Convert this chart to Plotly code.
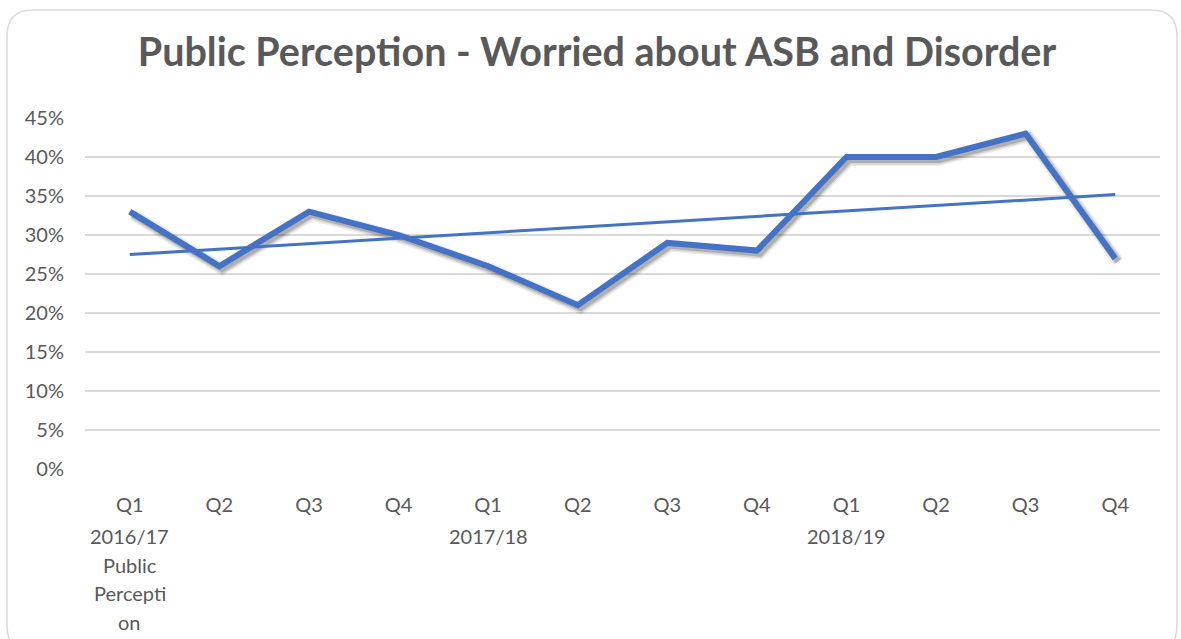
import numpy as np
import plotly.graph_objects as go

# data
quarters = ["Q1", "Q2", "Q3", "Q4", "Q1", "Q2", "Q3", "Q4", "Q1", "Q2", "Q3", "Q4"]
years = ["2016/17", "", "", "", "2017/18", "", "", "", "2018/19", "", "", ""]
group_lines = ["Public", "Percepti", "on"]  # "Public Perception", wrapped as in the original
worried_pct = [33, 26, 33, 30, 26, 21, 29, 28, 40, 40, 43, 27]
y_ticks = [0, 5, 10, 15, 20, 25, 30, 35, 40, 45]

W, H = 1181, 639
L, R, T, B = 85, 21, 118, 170
plot_w = W - L - R
plot_h = H - T - B
grey = "#595959"
blue = "#4472C4"
fs = 20

x = list(range(len(worried_pct)))
# linear trendline like Excel's
slope, intercept = np.polyfit(x, worried_pct, 1)
trend = [intercept + slope * i for i in x]

xr = [-0.5, len(x) - 0.5]
yr = [0, 45]
# shadow: same data, axes shifted a few pixels right/down
sx = 3 * (xr[1] - xr[0]) / plot_w
sy = 3 * (yr[1] - yr[0]) / plot_h

fig = go.Figure()
for wd, op in [(12, 0.07), (9, 0.11), (6, 0.17)]:
    fig.add_trace(go.Scatter(x=x, y=worried_pct, mode="lines", xaxis="x", yaxis="y",
                             line=dict(color="rgba(0,0,0,%s)" % op, width=wd),
                             hoverinfo="skip", showlegend=False))
fig.add_trace(go.Scatter(x=x, y=worried_pct, mode="lines", xaxis="x2", yaxis="y2",
                         line=dict(color=blue, width=6), name="Worried about ASB and Disorder",
                         showlegend=False))
fig.add_trace(go.Scatter(x=x, y=trend, mode="lines", xaxis="x2", yaxis="y2",
                         line=dict(color=blue, width=3), name="Linear trend", showlegend=False))

# extra category label rows under the quarter ticks
ann = []
row_y = 536 - (H - B)
for i, yl in enumerate(years):
    if yl:
        ann.append(dict(x=i, y=0, xref="x2", yref="paper", text=yl, showarrow=False,
                        yanchor="middle", yshift=-row_y, font=dict(size=fs, color=grey)))
for k, gl in enumerate(group_lines):
    ann.append(dict(x=0, y=0, xref="x2", yref="paper", text=gl, showarrow=False,
                    yanchor="middle", yshift=-(row_y + 28.6 * (k + 1)),
                    font=dict(size=fs, color=grey)))


def px(v):
    return (v - L) / plot_w


def py(v):
    return (H - B - v) / plot_h


# rounded chart border
x0, x1, y0, y1, r = 7, 1177, 10, 652, 26
path = ("M %f,%f L %f,%f Q %f,%f %f,%f L %f,%f Q %f,%f %f,%f "
        "L %f,%f Q %f,%f %f,%f L %f,%f Q %f,%f %f,%f Z") % (
    px(x0 + r), py(y0), px(x1 - r), py(y0), px(x1), py(y0), px(x1), py(y0 + r),
    px(x1), py(y1 - r), px(x1), py(y1), px(x1 - r), py(y1),
    px(x0 + r), py(y1), px(x0), py(y1), px(x0), py(y1 - r),
    px(x0), py(y0 + r), px(x0), py(y0), px(x0 + r), py(y0))

fig.update_layout(
    width=W, height=H,
    margin=dict(l=L, r=R, t=T, b=B),
    paper_bgcolor="white", plot_bgcolor="white",
    font=dict(family="Lato", size=fs, color=grey),
    title=dict(text="<b>Public Perception - Worried about ASB and Disorder</b>",
               x=597 / W, xref="container", xanchor="center",
               y=1 - 52 / H, yref="container", yanchor="middle",
               font=dict(family="Lato", size=39.5, color=grey)),
    xaxis=dict(range=[xr[0] - sx, xr[1] - sx], showgrid=False, zeroline=False,
               showticklabels=False, showline=False),
    yaxis=dict(range=[yr[0] + sy, yr[1] + sy], showgrid=False, zeroline=False,
               showticklabels=False, showline=False),
    xaxis2=dict(range=xr, overlaying="x", side="bottom", showgrid=False, zeroline=False,
                tickmode="array", tickvals=x, ticktext=quarters, ticks="",
                ticklabelstandoff=22, showline=False),
    yaxis2=dict(range=yr, overlaying="y", side="left", showgrid=True, gridcolor="#d9d9d9",
                gridwidth=1.5, zeroline=False, tickmode="array", tickvals=y_ticks,
                ticktext=["%d%%" % v for v in y_ticks], ticks="", ticklabelstandoff=20,
                showline=False),
    annotations=ann,
    shapes=[dict(type="path", path=path, xref="paper", yref="paper",
                 line=dict(color="#d9d9d9", width=1.5), layer="below")],
)

fig.write_html("out.html", config={"displayModeBar": False},
               post_script="document.body.style.margin='0';")
